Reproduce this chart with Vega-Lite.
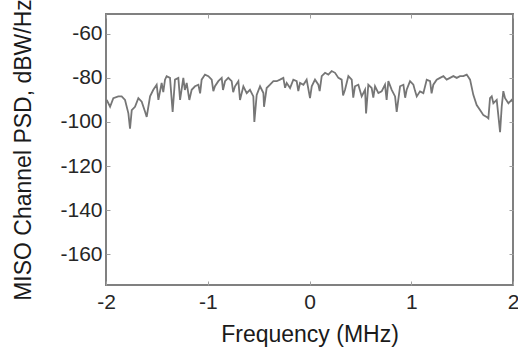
{
  "$schema": "https://vega.github.io/schema/vega-lite/v6.json",
  "autosize": "none",
  "width": 407,
  "height": 271,
  "padding": {"left": 106, "top": 14, "right": 5, "bottom": 64},
  "background": "white",
  "config": {
    "view": {"stroke": "#808080", "strokeWidth": 2},
    "axis": {
      "labelFont": "Liberation Sans",
      "titleFont": "Liberation Sans",
      "labelFontSize": 21,
      "titleFontSize": 23,
      "labelColor": "#262626",
      "titleColor": "#1a1a1a",
      "titleFontWeight": "normal",
      "domain": false,
      "grid": false,
      "tickSize": -4,
      "tickColor": "#a0a0a0",
      "tickWidth": 1,
      "labelExpr": "'' + datum.value"
    }
  },
  "data": {"values": [
    {"f": -1.993, "p": -90.0}, {"f": -1.96, "p": -93.1}, {"f": -1.928, "p": -89.2}, {"f": -1.879, "p": -88.4},
    {"f": -1.846, "p": -88.4}, {"f": -1.813, "p": -90.0}, {"f": -1.78, "p": -96.1}, {"f": -1.764, "p": -103.0},
    {"f": -1.747, "p": -94.6}, {"f": -1.715, "p": -93.1}, {"f": -1.682, "p": -89.2}, {"f": -1.649, "p": -90.8},
    {"f": -1.616, "p": -95.4}, {"f": -1.6, "p": -97.7}, {"f": -1.567, "p": -88.4}, {"f": -1.535, "p": -85.4},
    {"f": -1.502, "p": -83.1}, {"f": -1.485, "p": -90.0}, {"f": -1.453, "p": -82.3}, {"f": -1.437, "p": -86.5},
    {"f": -1.42, "p": -80.8},
    {"f": -1.404, "p": -79.2}, {"f": -1.371, "p": -80.0}, {"f": -1.345, "p": -95.4}, {"f": -1.322, "p": -80.8},
    {"f": -1.289, "p": -80.0}, {"f": -1.272, "p": -90.0}, {"f": -1.24, "p": -80.0}, {"f": -1.225, "p": -85.5},
    {"f": -1.207, "p": -82.3},
    {"f": -1.181, "p": -90.0}, {"f": -1.158, "p": -85.4}, {"f": -1.125, "p": -83.8}, {"f": -1.092, "p": -83.1},
    {"f": -1.075, "p": -87.0},
    {"f": -1.06, "p": -80.8}, {"f": -1.027, "p": -78.5}, {"f": -0.994, "p": -79.2}, {"f": -0.961, "p": -80.8},
    {"f": -0.945, "p": -86.0},
    {"f": -0.929, "p": -83.8}, {"f": -0.896, "p": -81.5}, {"f": -0.863, "p": -80.0}, {"f": -0.85, "p": -85.5},
    {"f": -0.83, "p": -81.5},
    {"f": -0.798, "p": -80.0}, {"f": -0.765, "p": -81.5}, {"f": -0.75, "p": -86.5}, {"f": -0.732, "p": -83.8},
    {"f": -0.699, "p": -81.5},
    {"f": -0.683, "p": -90.0}, {"f": -0.65, "p": -83.8}, {"f": -0.617, "p": -86.9}, {"f": -0.585, "p": -85.4},
    {"f": -0.552, "p": -88.4}, {"f": -0.542, "p": -100.0}, {"f": -0.519, "p": -87.7}, {"f": -0.486, "p": -83.8},
    {"f": -0.453, "p": -86.9}, {"f": -0.447, "p": -93.1}, {"f": -0.421, "p": -84.6}, {"f": -0.388, "p": -83.1},
    {"f": -0.355, "p": -81.5}, {"f": -0.322, "p": -81.5}, {"f": -0.29, "p": -80.8}, {"f": -0.257, "p": -80.0},
    {"f": -0.24, "p": -84.5},
    {"f": -0.224, "p": -82.3}, {"f": -0.191, "p": -84.6}, {"f": -0.159, "p": -80.8}, {"f": -0.126, "p": -81.5},
    {"f": -0.11, "p": -86.0},
    {"f": -0.093, "p": -82.3}, {"f": -0.06, "p": -83.1}, {"f": -0.028, "p": -80.8}, {"f": 0.005, "p": -89.2},
    {"f": 0.022, "p": -83.8}, {"f": 0.054, "p": -80.8}, {"f": 0.087, "p": -83.1}, {"f": 0.1, "p": -86.0},
    {"f": 0.12, "p": -79.2},
    {"f": 0.153, "p": -77.7}, {"f": 0.185, "p": -78.5}, {"f": 0.218, "p": -76.9}, {"f": 0.251, "p": -77.7},
    {"f": 0.284, "p": -80.0}, {"f": 0.316, "p": -80.8}, {"f": 0.33, "p": -88.0}, {"f": 0.349, "p": -85.4},
    {"f": 0.382, "p": -79.2},
    {"f": 0.415, "p": -80.8}, {"f": 0.43, "p": -89.0}, {"f": 0.447, "p": -83.8}, {"f": 0.48, "p": -83.1},
    {"f": 0.513, "p": -88.4},
    {"f": 0.546, "p": -85.4}, {"f": 0.556, "p": -96.1}, {"f": 0.578, "p": -83.1}, {"f": 0.611, "p": -84.6},
    {"f": 0.627, "p": -89.0},
    {"f": 0.644, "p": -83.8}, {"f": 0.677, "p": -86.9}, {"f": 0.709, "p": -86.1}, {"f": 0.742, "p": -83.1},
    {"f": 0.758, "p": -90.0},
    {"f": 0.775, "p": -81.5}, {"f": 0.808, "p": -85.4}, {"f": 0.841, "p": -88.4}, {"f": 0.857, "p": -95.4},
    {"f": 0.89, "p": -83.8}, {"f": 0.923, "p": -83.1}, {"f": 0.94, "p": -89.0}, {"f": 0.955, "p": -85.4},
    {"f": 0.988, "p": -81.5},
    {"f": 1.021, "p": -83.1}, {"f": 1.038, "p": -86.0}, {"f": 1.054, "p": -88.4}, {"f": 1.086, "p": -86.1},
    {"f": 1.119, "p": -86.9},
    {"f": 1.152, "p": -80.8}, {"f": 1.185, "p": -81.5}, {"f": 1.2, "p": -87.0}, {"f": 1.217, "p": -83.1},
    {"f": 1.25, "p": -80.8},
    {"f": 1.283, "p": -80.0}, {"f": 1.316, "p": -79.2}, {"f": 1.348, "p": -80.8}, {"f": 1.381, "p": -80.0},
    {"f": 1.414, "p": -79.2}, {"f": 1.447, "p": -80.0}, {"f": 1.479, "p": -79.2}, {"f": 1.512, "p": -79.2},
    {"f": 1.545, "p": -78.5}, {"f": 1.578, "p": -80.8}, {"f": 1.61, "p": -87.7}, {"f": 1.643, "p": -92.3},
    {"f": 1.676, "p": -94.6}, {"f": 1.709, "p": -96.9}, {"f": 1.741, "p": -97.7}, {"f": 1.758, "p": -98.4},
    {"f": 1.774, "p": -89.2}, {"f": 1.791, "p": -88.4}, {"f": 1.807, "p": -91.5}, {"f": 1.84, "p": -90.0},
    {"f": 1.873, "p": -104.6}, {"f": 1.889, "p": -93.1}, {"f": 1.905, "p": -86.0}, {"f": 1.922, "p": -89.2},
    {"f": 1.955, "p": -91.5},
    {"f": 1.987, "p": -90.0}, {"f": 2.0, "p": -90.8}
  ]},
  "layer": [
    {
      "mark": {"type": "line", "color": "#767676", "strokeWidth": 1.8, "clip": true},
      "encoding": {
        "x": {"field": "f", "type": "quantitative", "scale": {"domain": [-2, 2], "nice": false, "zero": false},
              "axis": {"orient": "bottom", "values": [-2, -1, 0, 1, 2], "title": "Frequency (MHz)", "labelPadding": 10, "titlePadding": 11, "labelFlush": false}},
        "y": {"field": "p", "type": "quantitative", "scale": {"domain": [-174, -51], "nice": false, "zero": false},
              "axis": {"orient": "left", "values": [-60, -80, -100, -120, -140, -160], "title": "MISO Channel PSD, dBW/Hz", "labelPadding": 8, "titlePadding": 24}}
      }
    },
    {
      "mark": {"type": "line", "opacity": 0},
      "encoding": {
        "x": {"field": "f", "type": "quantitative", "axis": {"orient": "top", "values": [-2, -1, 0, 1, 2], "labels": false, "title": null}},
        "y": {"field": "p", "type": "quantitative", "axis": {"orient": "right", "values": [-60, -80, -100, -120, -140, -160], "labels": false, "title": null}}
      }
    }
  ],
  "resolve": {"axis": {"x": "independent", "y": "independent"}}
}
